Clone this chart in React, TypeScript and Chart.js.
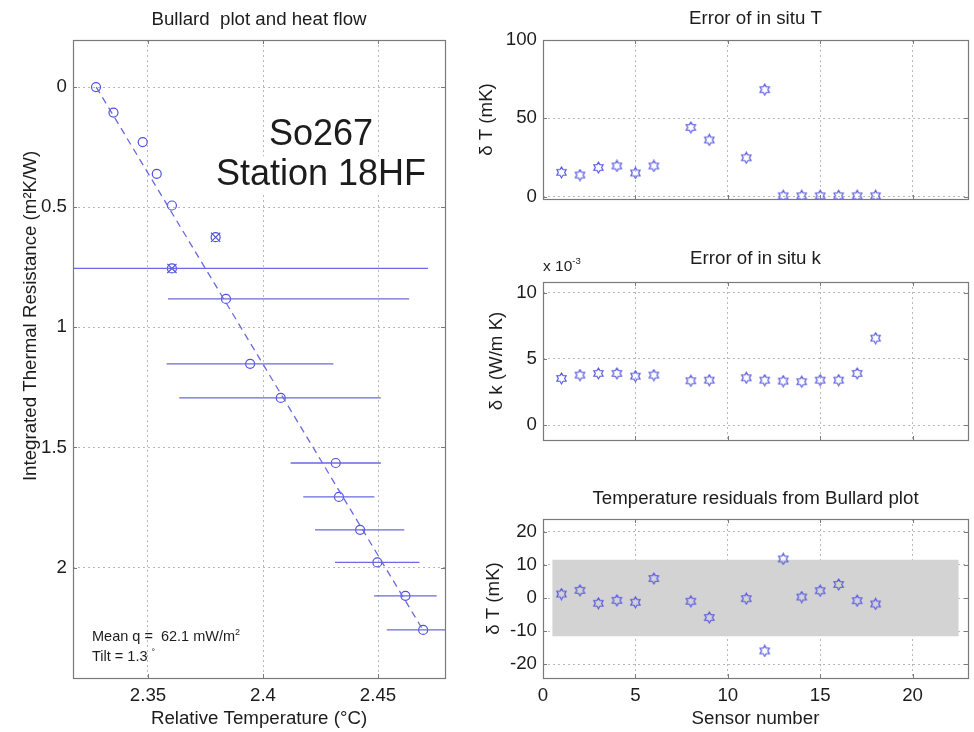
import React, { useEffect, useRef } from "react";
import { Chart, registerables } from "chart.js";

Chart.register(...registerables);

// ---------------- Data ----------------
// Bullard plot: temperature (°C) vs integrated thermal resistance (m²K/W)
const bullardT = [2.3274, 2.3350, 2.3477, 2.3538, 2.3604, 2.3794, 2.3604, 2.3839, 2.3944, 2.4077, 2.4316, 2.4330, 2.4422, 2.4497, 2.4619, 2.4696];
const bullardR = [0, 0.106, 0.229, 0.361, 0.493, 0.625, 0.755, 0.882, 1.152, 1.294, 1.565, 1.706, 1.843, 1.979, 2.118, 2.260];
const excludedIdx = [5, 6];
const barR = [0.755, 0.882, 1.152, 1.294, 1.565, 1.706, 1.843, 1.979, 2.118, 2.260];
const barLowT = [2.249, 2.3587, 2.3581, 2.3636, 2.4120, 2.4175, 2.4226, 2.4313, 2.4483, 2.4538];
const barHighT = [2.4717, 2.4635, 2.4306, 2.4512, 2.4512, 2.4484, 2.4614, 2.4680, 2.4755, 2.4850];
const fitT = [2.3275, 2.4695];
const fitR = [0, 2.26];
const tempTicks = [2.35, 2.4, 2.45];
const resistanceTicks = [0, 0.5, 1, 1.5, 2];

// Sensor panels
const sensors = [1, 2, 3, 4, 5, 6, 8, 9, 11, 12, 13, 14, 15, 16, 17, 18];
const errorT = [15.5, 13.8, 18.6, 19.6, 15.1, 19.6, 44.2, 36.2, 24.8, 68.3, 0.5, 0.5, 0.5, 0.5, 0.5, 0.5];
const errorK = [0.00352, 0.00377, 0.0039, 0.0039, 0.00369, 0.00377, 0.00334, 0.00339, 0.00357, 0.00339, 0.00332, 0.00327, 0.00339, 0.00339, 0.0039, 0.00656];
const residualT = [1.2, 2.3, -1.6, -0.7, -1.3, 5.9, -1.0, -5.9, -0.2, -16.0, 11.8, 0.3, 2.2, 4.1, -0.8, -1.8];
const bandX = [0.5, 22.5];
const bandHalfWidth = 11.6;
const sensorTicks = [0, 5, 10, 15, 20];
const errorTTicks = [0, 50, 100];
const errorKTicks = [0, 0.005, 0.01];
const residualTicks = [-20, -10, 0, 10, 20];

// ---------------- Styling ----------------
const FONT = "'Liberation Sans', Arial, Helvetica, sans-serif";
const TEXT = "#1c1c1c";
const FRAME = "#7a7a7a";
const GRID = "#b8b8b8";
const MARK_BLUE = "rgb(80,80,225)";
const LINE_BLUE = "rgb(105,105,225)";
const FS = 18.7;

type Part = { t: string; sup?: boolean };
type TextSpec = {
  parts: Part[];
  x: number;
  y: number;
  size: number;
  align?: "left" | "center" | "right";
  baseline?: CanvasTextBaseline;
  rotate?: number;
  bg?: boolean;
};

function drawRich(ctx: CanvasRenderingContext2D, s: TextSpec) {
  ctx.save();
  ctx.translate(s.x, s.y);
  if (s.rotate) ctx.rotate(s.rotate);
  const supSize = s.size * 0.62;
  const widths = s.parts.map((p) => {
    ctx.font = `${p.sup ? supSize : s.size}px ${FONT}`;
    return ctx.measureText(p.t).width;
  });
  const total = widths.reduce((a, b) => a + b, 0);
  let x = s.align === "center" ? -total / 2 : s.align === "right" ? -total : 0;
  ctx.textAlign = "left";
  ctx.textBaseline = s.baseline ?? "alphabetic";
  if (s.bg) {
    ctx.fillStyle = "#ffffff";
    ctx.fillRect(x - 3, -s.size * 0.8, total + 6, s.size * 1.02);
  }
  ctx.fillStyle = TEXT;
  s.parts.forEach((p, i) => {
    ctx.font = `${p.sup ? supSize : s.size}px ${FONT}`;
    ctx.fillText(p.t, x, p.sup ? -s.size * 0.42 : 0);
    x += widths[i];
  });
  ctx.restore();
}

function decor(texts: TextSpec[]) {
  return {
    id: "decor",
    afterDraw(chart: any) {
      const ctx: CanvasRenderingContext2D = chart.ctx;
      const { left, top, right, bottom } = chart.chartArea;
      const xs = chart.scales.x;
      const ys = chart.scales.y;
      const TL = 4;
      ctx.save();
      ctx.strokeStyle = FRAME;
      ctx.lineWidth = 1;
      ctx.beginPath();
      for (const t of xs.ticks) {
        const px = Math.round(xs.getPixelForValue(t.value)) + 0.5;
        ctx.moveTo(px, bottom);
        ctx.lineTo(px, bottom - TL);
        ctx.moveTo(px, top);
        ctx.lineTo(px, top + TL);
      }
      for (const t of ys.ticks) {
        const py = Math.round(ys.getPixelForValue(t.value)) + 0.5;
        ctx.moveTo(left, py);
        ctx.lineTo(left + TL, py);
        ctx.moveTo(right, py);
        ctx.lineTo(right - TL, py);
      }
      ctx.stroke();
      ctx.lineWidth = 1.2;
      ctx.strokeRect(Math.round(left) + 0.5, Math.round(top) + 0.5, Math.round(right - left), Math.round(bottom - top));
      ctx.restore();
      texts.forEach((s) => drawRich(ctx, s));
    },
  };
}

function scale(o: {
  axis: "x" | "y";
  min: number;
  max: number;
  ticks: number[];
  labels: boolean;
  fit: number;
  reverse?: boolean;
  fmt?: (v: number) => string;
}) {
  const fmt = o.fmt ?? ((v: number) => String(v));
  return {
    type: "linear",
    position: o.axis === "x" ? "bottom" : "left",
    min: o.min,
    max: o.max,
    reverse: !!o.reverse,
    afterBuildTicks: (s: any) => {
      s.ticks = o.ticks.map((v) => ({ value: v }));
    },
    afterFit: (s: any) => {
      if (o.axis === "x") s.height = o.fit;
      else s.width = o.fit;
    },
    ticks: {
      display: o.labels,
      autoSkip: false,
      maxRotation: 0,
      minRotation: 0,
      padding: o.axis === "x" ? 7 : 6,
      color: TEXT,
      font: { family: FONT, size: FS },
      callback: (v: number) => fmt(v),
    },
    grid: { display: true, color: GRID, lineWidth: 1, drawTicks: false },
    border: { display: false, dash: [2, 3] },
    title: { display: false },
  };
}

function hexagram(size: number, color: string, lw: number) {
  const c = document.createElement("canvas");
  c.width = size;
  c.height = size;
  const ctx = c.getContext("2d")!;
  const cx = size / 2;
  const cy = size / 2;
  const R = size / 2 - lw;
  const r = R / Math.sqrt(3);
  ctx.beginPath();
  for (let k = 0; k < 12; k++) {
    const ang = -Math.PI / 2 + (k * Math.PI) / 6;
    const rad = k % 2 === 0 ? R : r;
    const px = cx + rad * Math.cos(ang);
    const py = cy + rad * Math.sin(ang);
    if (k === 0) ctx.moveTo(px, py);
    else ctx.lineTo(px, py);
  }
  ctx.closePath();
  ctx.strokeStyle = color;
  ctx.lineWidth = lw;
  ctx.stroke();
  return c;
}

const baseOptions = (padding: any, scales: any) => ({
  responsive: false,
  animation: false,
  events: [],
  layout: { padding },
  plugins: { legend: { display: false }, tooltip: { enabled: false }, title: { display: false } },
  scales,
});

function buildBullard() {
  const datasets: any[] = [];
  datasets.push({
    data: fitT.map((t, i) => ({ x: t, y: fitR[i] })),
    showLine: true,
    borderColor: LINE_BLUE,
    borderWidth: 1.3,
    borderDash: [7, 5],
    pointRadius: 0,
  });
  barR.forEach((r, i) =>
    datasets.push({
      data: [
        { x: barLowT[i], y: r },
        { x: barHighT[i], y: r },
      ],
      showLine: true,
      borderColor: LINE_BLUE,
      borderWidth: 1.3,
      pointRadius: 0,
    })
  );
  datasets.push({
    data: bullardT.map((t, i) => ({ x: t, y: bullardR[i] })),
    pointStyle: "circle",
    pointRadius: 4.5,
    borderColor: MARK_BLUE,
    backgroundColor: "rgba(0,0,0,0)",
    borderWidth: 1.2,
  });
  datasets.push({
    data: excludedIdx.map((i) => ({ x: bullardT[i], y: bullardR[i] })),
    pointStyle: "crossRot",
    pointRadius: 6.5,
    borderColor: MARK_BLUE,
    borderWidth: 1.2,
  });
  const texts: TextSpec[] = [
    { parts: [{ t: "Bullard  plot and heat flow" }], x: 259, y: 25, size: FS, align: "center" },
    { parts: [{ t: "Relative Temperature (°C)" }], x: 259, y: 724, size: FS, align: "center" },
    { parts: [{ t: "Integrated Thermal Resistance (m²K/W)" }], x: 31, y: 316, size: FS, align: "center", baseline: "middle", rotate: -Math.PI / 2 },
    { parts: [{ t: "So267" }], x: 321, y: 145, size: 36, align: "center", bg: true },
    { parts: [{ t: "Station 18HF" }], x: 321, y: 185, size: 36, align: "center", bg: true },
    { parts: [{ t: "Mean q =  62.1 mW/m" }, { t: "2", sup: true }], x: 92, y: 641, size: 14.5, align: "left" },
    { parts: [{ t: "Tilt = 1.3 " }, { t: "°", sup: true }], x: 92, y: 661, size: 14.5, align: "left" },
  ];
  return {
    type: "scatter",
    data: { datasets },
    options: baseOptions(
      { left: 0, top: 40, right: 25, bottom: 0 },
      {
        x: scale({ axis: "x", min: 2.3174, max: 2.4791, ticks: tempTicks, labels: true, fit: 54 }),
        y: scale({ axis: "y", min: -0.196, max: 2.46, ticks: resistanceTicks, labels: true, fit: 73, reverse: true }),
      }
    ),
    plugins: [decor(texts)],
  };
}

function sensorDataset(values: number[]) {
  return {
    data: sensors.map((s, i) => ({ x: s, y: values[i] })),
    pointStyle: hexagram(13, MARK_BLUE, 1.1),
    pointRadius: 5,
    order: 0,
  };
}

function buildErrorT() {
  const texts: TextSpec[] = [
    { parts: [{ t: "Error of in situ T" }], x: 285.5, y: 24, size: FS, align: "center" },
    { parts: [{ t: "δ T (mK)" }], x: 17, y: 119.5, size: FS, align: "center", baseline: "middle", rotate: -Math.PI / 2 },
  ];
  return {
    type: "scatter",
    data: { datasets: [sensorDataset(errorT)] },
    options: baseOptions(
      { left: 0, top: 40, right: 6, bottom: 0 },
      {
        x: scale({ axis: "x", min: 0, max: 23, ticks: sensorTicks, labels: false, fit: 41 }),
        y: scale({ axis: "y", min: -1.5, max: 100, ticks: errorTTicks, labels: true, fit: 73 }),
      }
    ),
    plugins: [decor(texts)],
  };
}

function buildErrorK() {
  const texts: TextSpec[] = [
    { parts: [{ t: "Error of in situ k" }], x: 285.5, y: 23.5, size: FS, align: "center" },
    { parts: [{ t: "x 10" }, { t: "-3", sup: true }], x: 73, y: 31, size: 15.5, align: "left" },
    { parts: [{ t: "δ k (W/m K)" }], x: 27, y: 121, size: FS, align: "center", baseline: "middle", rotate: -Math.PI / 2 },
  ];
  return {
    type: "scatter",
    data: { datasets: [sensorDataset(errorK)] },
    options: baseOptions(
      { left: 0, top: 42, right: 6, bottom: 0 },
      {
        x: scale({ axis: "x", min: 0, max: 23, ticks: sensorTicks, labels: false, fit: 40 }),
        y: scale({
          axis: "y",
          min: -0.00113,
          max: 0.0108,
          ticks: errorKTicks,
          labels: true,
          fit: 73,
          fmt: (v) => String(Math.round(v * 1000)),
        }),
      }
    ),
    plugins: [decor(texts)],
  };
}

function buildResiduals() {
  const texts: TextSpec[] = [
    { parts: [{ t: "Temperature residuals from Bullard plot" }], x: 285.5, y: 24.3, size: FS, align: "center" },
    { parts: [{ t: "δ T (mK)" }], x: 24, y: 118.5, size: FS, align: "center", baseline: "middle", rotate: -Math.PI / 2 },
    { parts: [{ t: "Sensor number" }], x: 285.5, y: 244, size: FS, align: "center" },
  ];
  const band = {
    type: "line",
    data: bandX.map((x) => ({ x, y: bandHalfWidth })),
    borderWidth: 0,
    borderColor: "rgba(0,0,0,0)",
    backgroundColor: "#d3d3d3",
    pointRadius: 0,
    fill: { value: -bandHalfWidth },
    order: 10,
  };
  return {
    type: "scatter",
    data: { datasets: [sensorDataset(residualT), band] },
    options: baseOptions(
      { left: 0, top: 39, right: 6, bottom: 0 },
      {
        x: scale({ axis: "x", min: 0, max: 23, ticks: sensorTicks, labels: true, fit: 54 }),
        y: scale({ axis: "y", min: -24.2, max: 23.9, ticks: residualTicks, labels: true, fit: 73 }),
      }
    ),
    plugins: [decor(texts)],
  };
}

function Panel(props: { left: number; top: number; width: number; height: number; build: () => any }) {
  const ref = useRef<HTMLCanvasElement>(null);
  useEffect(() => {
    const chart = new Chart(ref.current as HTMLCanvasElement, props.build());
    return () => chart.destroy();
  }, []);
  return (
    <canvas
      ref={ref}
      width={props.width}
      height={props.height}
      style={{ position: "absolute", left: props.left, top: props.top, width: props.width, height: props.height, display: "block" }}
    />
  );
}

export default function App() {
  return (
    <div style={{ position: "fixed", left: 0, top: 0, width: 974, height: 732, background: "#ffffff", overflow: "hidden" }}>
      <Panel left={0} top={0} width={470} height={732} build={buildBullard} />
      <Panel left={470} top={0} width={504} height={240} build={buildErrorT} />
      <Panel left={470} top={240} width={504} height={240} build={buildErrorK} />
      <Panel left={470} top={480} width={504} height={252} build={buildResiduals} />
    </div>
  );
}
